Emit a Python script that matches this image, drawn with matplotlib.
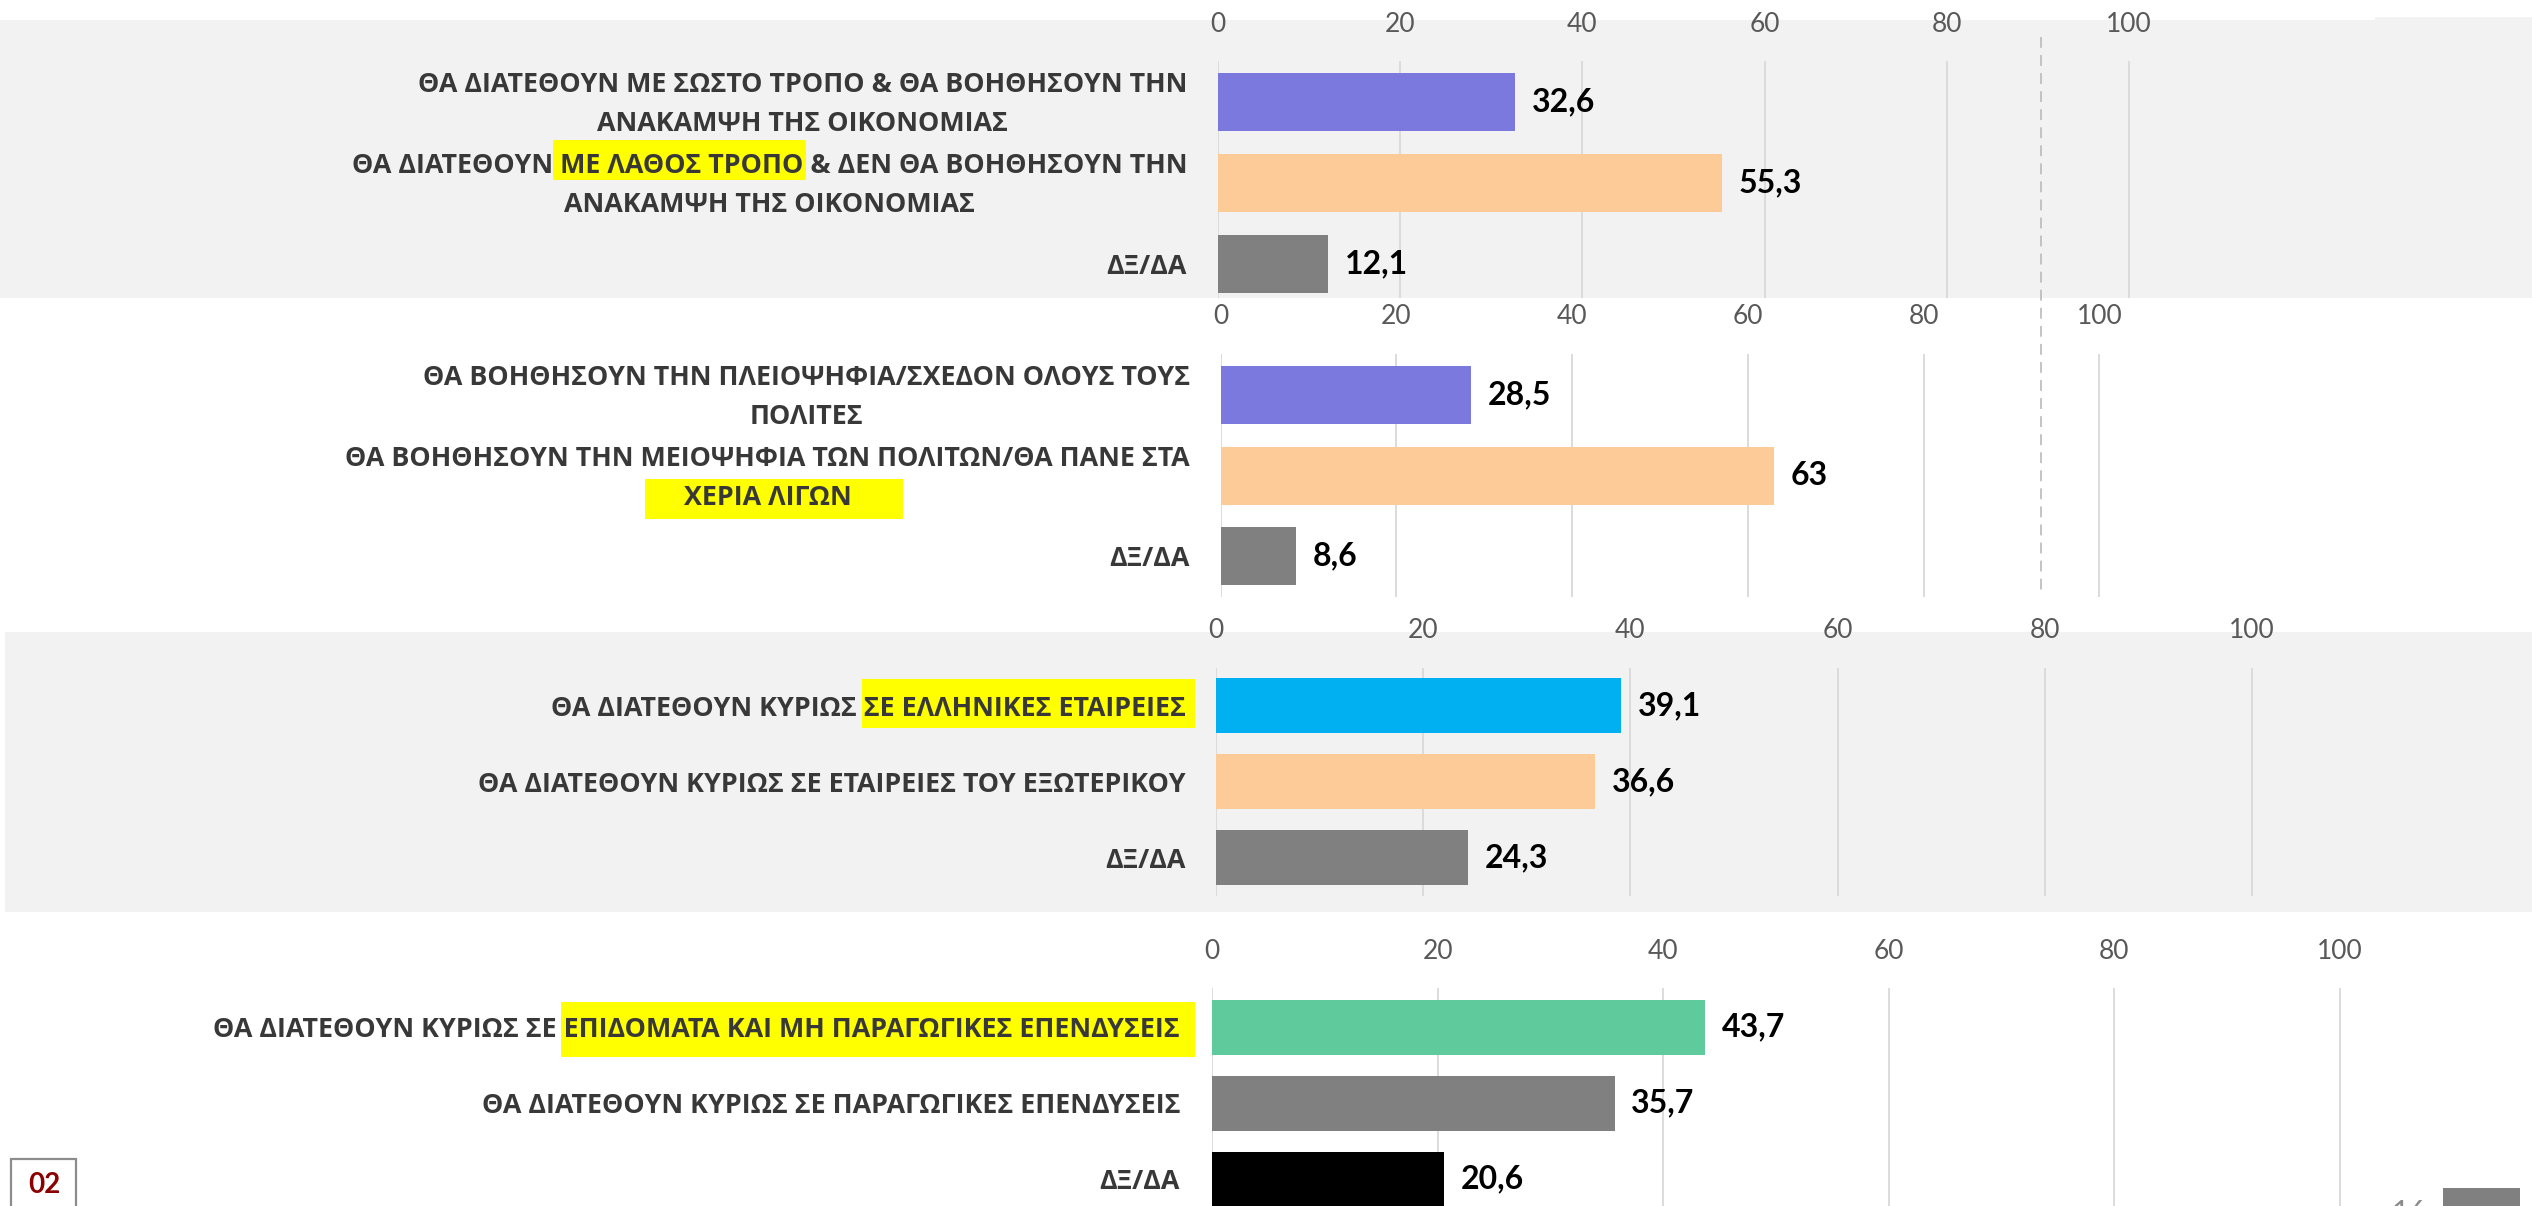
import matplotlib
matplotlib.use("Agg")
import matplotlib.pyplot as plt
from matplotlib.patches import Rectangle
from matplotlib.lines import Line2D

W, H, DPI = 2532, 1206, 100

# ---------------- data ----------------
p1_labels = ["ΘΑ ΔΙΑΤΕΘΟΥΝ ΜΕ ΣΩΣΤΟ ΤΡΟΠΟ & ΘΑ ΒΟΗΘΗΣΟΥΝ ΤΗΝ\nΑΝΑΚΑΜΨΗ ΤΗΣ ΟΙΚΟΝΟΜΙΑΣ",
             "ΘΑ ΔΙΑΤΕΘΟΥΝ ΜΕ ΛΑΘΟΣ ΤΡΟΠΟ & ΔΕΝ ΘΑ ΒΟΗΘΗΣΟΥΝ ΤΗΝ\nΑΝΑΚΑΜΨΗ ΤΗΣ ΟΙΚΟΝΟΜΙΑΣ",
             "ΔΞ/ΔΑ"]
p1_values = [32.6, 55.3, 12.1]
p1_colors = ["#7B78DE", "#FDCB98", "#808080"]

p2_labels = ["ΘΑ ΒΟΗΘΗΣΟΥΝ ΤΗΝ ΠΛΕΙΟΨΗΦΙΑ/ΣΧΕΔΟΝ ΟΛΟΥΣ ΤΟΥΣ\nΠΟΛΙΤΕΣ",
             "ΘΑ ΒΟΗΘΗΣΟΥΝ ΤΗΝ ΜΕΙΟΨΗΦΙΑ ΤΩΝ ΠΟΛΙΤΩΝ/ΘΑ ΠΑΝΕ ΣΤΑ\nΧΕΡΙΑ ΛΙΓΩΝ",
             "ΔΞ/ΔΑ"]
p2_values = [28.5, 63, 8.6]
p2_colors = ["#7B78DE", "#FDCB98", "#808080"]

p3_labels = ["ΘΑ ΔΙΑΤΕΘΟΥΝ ΚΥΡΙΩΣ ΣΕ ΕΛΛΗΝΙΚΕΣ ΕΤΑΙΡΕΙΕΣ",
             "ΘΑ ΔΙΑΤΕΘΟΥΝ ΚΥΡΙΩΣ ΣΕ ΕΤΑΙΡΕΙΕΣ ΤΟΥ ΕΞΩΤΕΡΙΚΟΥ",
             "ΔΞ/ΔΑ"]
p3_values = [39.1, 36.6, 24.3]
p3_colors = ["#00B0F0", "#FDCB98", "#808080"]

p4_labels = ["ΘΑ ΔΙΑΤΕΘΟΥΝ ΚΥΡΙΩΣ ΣΕ ΕΠΙΔΟΜΑΤΑ ΚΑΙ ΜΗ ΠΑΡΑΓΩΓΙΚΕΣ ΕΠΕΝΔΥΣΕΙΣ",
             "ΘΑ ΔΙΑΤΕΘΟΥΝ ΚΥΡΙΩΣ ΣΕ ΠΑΡΑΓΩΓΙΚΕΣ ΕΠΕΝΔΥΣΕΙΣ",
             "ΔΞ/ΔΑ"]
p4_values = [43.7, 35.7, 20.6]
p4_colors = ["#5FCA9C", "#808080", "#000000"]

x_ticks = [0, 20, 40, 60, 80, 100]

# highlighted phrases: (panel, category, line, phrase)
highlights = [(0, 1, 0, "ΜΕ ΛΑΘΟΣ ΤΡΟΠΟ"),
              (1, 1, 1, "ΧΕΡΙΑ ΛΙΓΩΝ"),
              (2, 0, 0, "ΣΕ ΕΛΛΗΝΙΚΕΣ ΕΤΑΙΡΕΙΕΣ"),
              (3, 0, 0, "ΕΠΙΔΟΜΑΤΑ ΚΑΙ ΜΗ ΠΑΡΑΓΩΓΙΚΕΣ ΕΠΕΝΔΥΣΕΙΣ")]
# highlight paddings in px (left, right, above-centre, below-centre)
hl_pads = [(7, 3, 24, 16), (39, 51, 16, 24), (2, 9, 27, 22), (3, 15, 25, 30)]

# ---------------- layout (pixels) ----------------
panels = [
    dict(labels=p1_labels, values=p1_values, colors=p1_colors, x0=1218, ppu=9.11,
         gtop=61, gbot=298, c0=102, step=81, bh=58, ticky=23, lr=1187),
    dict(labels=p2_labels, values=p2_values, colors=p2_colors, x0=1220.5, ppu=8.79,
         gtop=354, gbot=597, c0=395, step=80.5, bh=58, ticky=315, lr=1190),
    dict(labels=p3_labels, values=p3_values, colors=p3_colors, x0=1216, ppu=10.36,
         gtop=668, gbot=896, c0=706, step=76, bh=55, ticky=629, lr=1186),
    dict(labels=p4_labels, values=p4_values, colors=p4_colors, x0=1212, ppu=11.28,
         gtop=988, gbot=1240, c0=1027, step=76, bh=55, ticky=950, lr=1180),
]

LABEL_FONT = ["Open Sans", "DejaVu Sans"]
NUM_FONT = ["Lato", "DejaVu Sans"]
LABEL_COLOR = "#383838"

fig = plt.figure(figsize=(W / DPI, H / DPI), dpi=DPI, facecolor="white")
renderer = fig.canvas.get_renderer()


def fx(x):
    return x / W


def fy(y):
    return 1 - y / H


def frect(x1, y1, x2, y2, **kw):
    r = Rectangle((fx(x1), fy(y2)), (x2 - x1) / W, (y2 - y1) / H,
                  transform=fig.transFigure, **kw)
    fig.patches.append(r)
    return r


def text_width(s, size):
    t = fig.text(0, 0, s, fontsize=size, family=LABEL_FONT, fontweight="bold")
    w = t.get_window_extent(renderer).width
    t.remove()
    return w


# fit label font size to the reference width of one line
ref_line = "ΘΑ ΔΙΑΤΕΘΟΥΝ ΚΥΡΙΩΣ ΣΕ ΕΤΑΙΡΕΙΕΣ ΤΟΥ ΕΞΩΤΕΡΙΚΟΥ"
LS = 20 * 709 / text_width(ref_line, 20)
cap_px = 0.714 * LS * DPI / 72

# backgrounds
frect(0, 20, W, 298, facecolor="#F2F2F2", edgecolor="none", zorder=-5)
frect(2375, 17, W, 21, facecolor="#F2F2F2", edgecolor="none", zorder=-5)
frect(5, 632, W, 912, facecolor="#F2F2F2", edgecolor="none", zorder=-5)

space_w = text_width("Α Α", LS) - text_width("ΑΑ", LS)

for pi, p in enumerate(panels):
    xmax = 110
    ax = fig.add_axes([fx(p["x0"]), fy(p["gbot"]), xmax * p["ppu"] / W,
                       (p["gbot"] - p["gtop"]) / H])
    ax.set_facecolor("none")
    n = len(p["values"])
    pos = list(range(n))
    ax.barh(pos, p["values"], height=p["bh"] / p["step"], color=p["colors"], zorder=3)
    ax.set_xlim(0, xmax)
    ax.set_ylim((p["gbot"] - p["c0"]) / p["step"], (p["gtop"] - p["c0"]) / p["step"])
    ax.set_xticks(x_ticks)
    ax.set_xticklabels([str(t) for t in x_ticks])
    ax.xaxis.set_ticks_position("top")
    pad_px = p["gtop"] - (p["ticky"] + 14)
    ax.tick_params(axis="x", length=0, pad=pad_px * 72 / DPI, labelsize=19,
                   labelcolor="#595959")
    for lab in ax.get_xticklabels():
        lab.set_family(NUM_FONT)
    ax.set_yticks([])
    ax.grid(axis="x", color="#D9D9D9", lw=1.3, zorder=0)
    for s in ax.spines.values():
        s.set_visible(False)
    for i, v in enumerate(p["values"]):
        ax.annotate(f"{v:g}".replace(".", ","), (v, i), xytext=(12, 0),
                    textcoords="offset points", va="center", ha="left",
                    fontsize=23, fontweight="bold", family=NUM_FONT, color="black")

    # category labels
    for i, lab in enumerate(p["labels"]):
        lines = lab.split("\n")
        widths = [text_width(l, LS) for l in lines]
        bw = max(widths)
        cx = p["lr"] - bw / 2
        yc = p["c0"] + p["step"] * i
        for k, (line, w) in enumerate(zip(lines, widths)):
            ly = yc + (k - (len(lines) - 1) / 2) * 39
            fig.text(fx(cx), fy(ly + cap_px / 2), line, ha="center", va="baseline",
                     fontsize=LS, fontweight="bold", family=LABEL_FONT,
                     color=LABEL_COLOR, zorder=5)
            for (hp, hc, hk, phrase), pads in zip(highlights, hl_pads):
                if hp == pi and hc == i and hk == k:
                    left = cx - w / 2
                    idx = line.index(phrase)
                    pre = line[:idx].rstrip()
                    start = left + (text_width(pre, LS) + space_w if pre else 0)
                    end = left + text_width(line[:idx + len(phrase)], LS)
                    frect(start - pads[0], ly - pads[2], end + pads[1], ly + pads[3],
                          facecolor="#FFFF00", edgecolor="none", zorder=2)

# dashed reference line across the first two panels
fig.lines.append(Line2D([fx(2041), fx(2041)], [fy(37), fy(592)], transform=fig.transFigure,
                        color="#BFBFBF", lw=1.3, dashes=(6, 4), zorder=1))

# page number box bottom-left
frect(11, 1159, 76, 1215, facecolor="white", edgecolor="#8C8C8C", lw=1.6, zorder=6)
fig.text(fx(44), fy(1185), "02", ha="center", va="center", fontsize=20,
         fontweight="bold", family=NUM_FONT, color="#8B0000", zorder=7)

# bottom-right fragments
fig.text(fx(2392), fy(1222), "16", ha="left", va="baseline", fontsize=22,
         family=NUM_FONT, color="#8C8C8C", zorder=7)
frect(2443, 1188, 2520, 1220, facecolor="#808080", edgecolor="none", zorder=6)

fig.savefig("out.png", dpi=DPI, facecolor="white")
